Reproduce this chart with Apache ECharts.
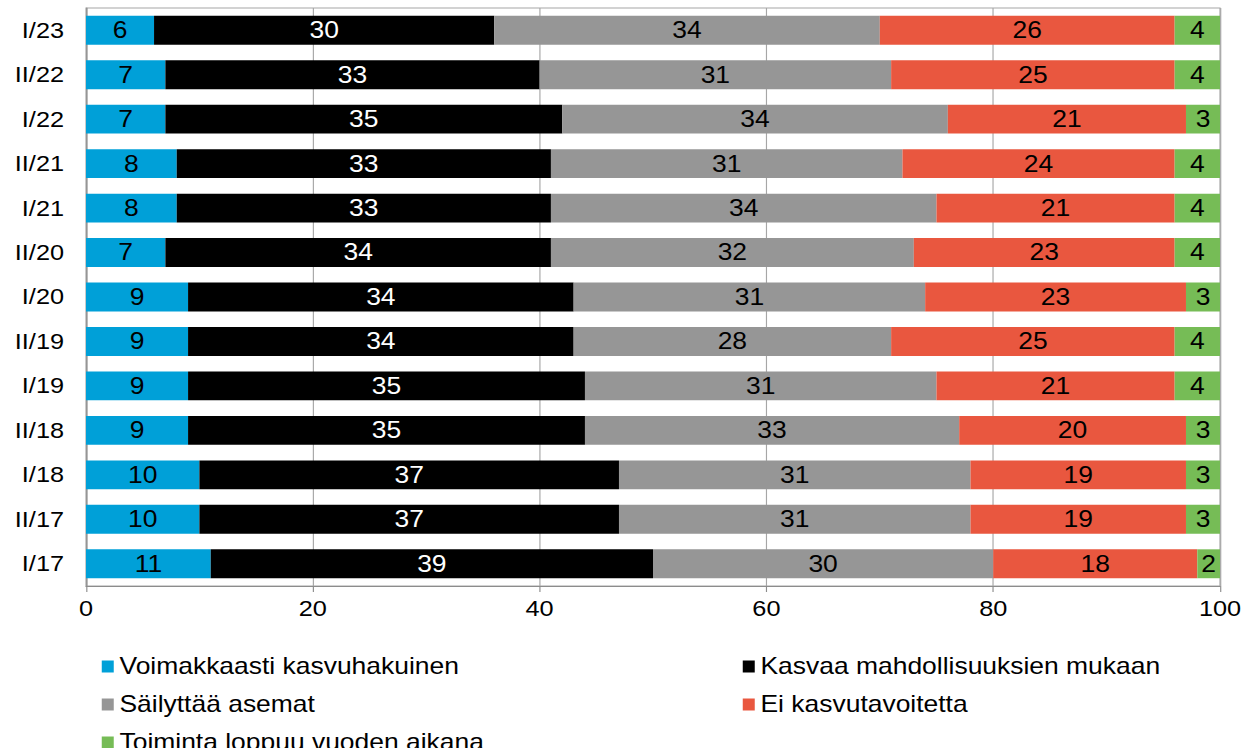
<!DOCTYPE html>
<html><head><meta charset="utf-8">
<script src="https://cdn.jsdelivr.net/npm/echarts@6/dist/echarts.min.js"></script>
<style>
html,body{margin:0;padding:0;background:#fff;overflow:hidden}
#wrap{width:1245px;height:748px;overflow:hidden}
#c{height:748px;transform-origin:0 0}
</style>
</head><body><div id="wrap"><div id="c"></div></div>
<script>
const categories = ['I/23','II/22','I/22','II/21','I/21','II/20','I/20','II/19','I/19','II/18','I/18','II/17','I/17'];
const seriesNames = ['Voimakkaasti kasvuhakuinen','Kasvaa mahdollisuuksien mukaan','Säilyttää asemat','Ei kasvutavoitetta','Toiminta loppuu vuoden aikana'];
const voimakkaasti = [6,7,7,8,8,7,9,9,9,9,10,10,11];
const kasvaa = [30,33,35,33,33,34,34,34,35,35,37,37,39];
const sailyttaa = [34,31,34,31,34,32,31,28,31,33,31,31,30];
const eiKasvu = [26,25,21,24,21,23,23,25,21,20,19,19,18];
const loppuu = [4,4,3,4,4,4,3,4,4,3,3,3,2];
const xTicks = [0,20,40,60,80,100];

// the reference's text is horizontally stretched; draw at a narrower width and stretch the whole chart
const S = 1.15;
const W = 1245 / S;
const el = document.getElementById('c');
el.style.width = W + 'px';
el.style.transform = 'scaleX(' + S + ')';

const colors = ['#00A0D8','#000000','#969696','#E9573F','#76BC56'];
const labelColors = ['#000','#fff','#000','#000','#000'];
const values = [voimakkaasti,kasvaa,sailyttaa,eiKasvu,loppuu];
const font = 'Liberation Sans, Arial, sans-serif';

const series = values.map((v,i)=>({
  name: seriesNames[i], type:'bar', stack:'s', data:v, barCategoryGap:'35%',
  itemStyle:{color:colors[i]},
  label:{show:true, position:'inside', color:labelColors[i], fontSize:23, fontFamily:font},
  emphasis:{disabled:true}
}));

const legendPos = [[96,650],[737,650],[96,688],[737,688],[96,726]];
const legends = seriesNames.map((n,i)=>({
  data:[n], left:legendPos[i][0]/S, top:legendPos[i][1], itemWidth:12/S, itemHeight:12, itemGap:7/S,
  icon:'rect', textStyle:{fontSize:23, fontFamily:font, color:'#000'}, selectedMode:false
}));

const chart = echarts.init(el, null, {renderer:'svg', width:W, height:748});
chart.setOption({
  animation:false,
  grid:{left:86/S, right:25/S, top:8, bottom:162, show:true, borderColor:'#a6a6a6', borderWidth:1},
  legend: legends,
  xAxis:{type:'value', min:0, max:100, interval:20,
    axisLine:{show:true, lineStyle:{color:'#8c8c8c'}},
    axisTick:{show:true, length:6, lineStyle:{color:'#8c8c8c'}},
    splitLine:{show:true, lineStyle:{color:'#a6a6a6'}},
    axisLabel:{fontSize:22, fontFamily:font, color:'#000', margin:12,
      formatter:(v)=> xTicks.includes(v)? String(v):''}},
  yAxis:{type:'category', data:categories, inverse:true,
    axisLine:{show:true, lineStyle:{color:'#8c8c8c'}},
    axisTick:{show:false},
    axisLabel:{fontSize:22, fontFamily:font, color:'#000', margin:22/S}},
  series: series
});
</script></body></html>
